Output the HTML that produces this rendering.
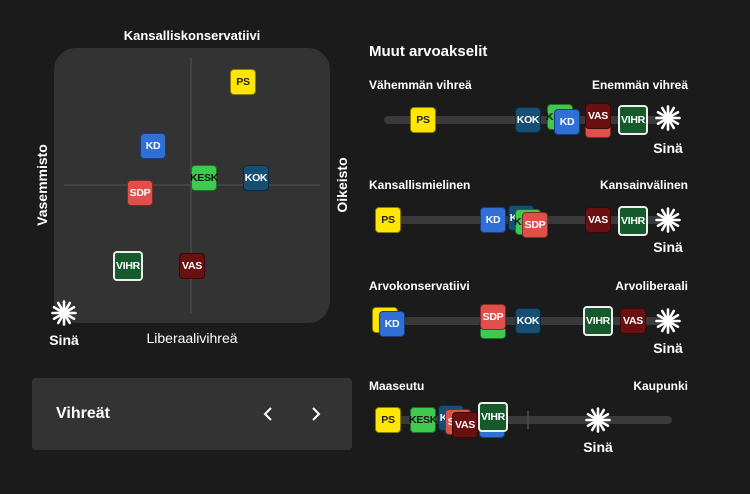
<!DOCTYPE html>
<html><head><meta charset="utf-8"><style>
*{margin:0;padding:0;box-sizing:border-box}
body{width:750px;height:494px;background:#1b1b1b;position:relative;overflow:hidden;font-family:"Liberation Sans",sans-serif;color:#fff;font-weight:bold}
.a{position:absolute}
.c{position:absolute;width:26px;height:26px;border-radius:4px;border:1px solid rgba(0,0,0,.45);font-size:10.5px;font-weight:bold;display:flex;align-items:center;justify-content:center;color:#fff;letter-spacing:-.3px}
.PS{background:#ffe600;color:#222}
.KD{background:#2f6fd6}
.KESK{background:#3fc94f;color:#111}
.KOK{background:#164f73}
.SDP{background:#e0504a}
.VAS{background:#6b1010}
.VIHR{background:#145a2a;border:2px solid #eee;width:30px;height:30px}
.lbl{position:absolute;font-size:12px;white-space:nowrap}
.trk{position:absolute;height:8px;background:#3a3a3a;border-radius:4px}
.sn{position:absolute;font-size:14px;transform:translateX(-50%)}
</style></head><body>
<div class="lbl" style="left:192px;top:28px;transform:translateX(-50%);font-size:13px">Kansalliskonservatiivi</div>
<div class="a" style="left:54px;top:48px;width:276px;height:275px;background:#333;border-radius:22px"></div>
<div class="a" style="left:190px;top:58px;width:2px;height:255px;background:#444"></div>
<div class="a" style="left:64px;top:184px;width:256px;height:2px;background:#444"></div>
<div class="lbl" style="left:192px;top:330px;transform:translateX(-50%);font-size:14px;font-weight:normal">Liberaalivihreä</div>
<div class="lbl" style="left:42px;top:185px;transform:translate(-50%,-50%) rotate(-90deg);font-size:14px">Vasemmisto</div>
<div class="lbl" style="left:342px;top:185px;transform:translate(-50%,-50%) rotate(-90deg);font-size:14px">Oikeisto</div>

<div class="c PS" style="left:230px;top:69px">PS</div>
<div class="c KD" style="left:140px;top:133px">KD</div>
<div class="c KESK" style="left:191px;top:165px">KESK</div>
<div class="c KOK" style="left:243px;top:165px">KOK</div>
<div class="c SDP" style="left:127px;top:180px">SDP</div>
<div class="c VIHR" style="left:113px;top:251px">VIHR</div>
<div class="c VAS" style="left:179px;top:253px">VAS</div>

<svg class="a" width="0" height="0"><defs><g id="st" fill="#fff">
<circle r="3.5"/>
<g stroke="#fff" stroke-width="2.6" stroke-linecap="round">
<line x1="0" y1="-2" x2="0" y2="-11.5"/>
<line x1="0" y1="-2" x2="0" y2="-11.5" transform="rotate(30)"/>
<line x1="0" y1="-2" x2="0" y2="-11.5" transform="rotate(60)"/>
<line x1="0" y1="-2" x2="0" y2="-11.5" transform="rotate(90)"/>
<line x1="0" y1="-2" x2="0" y2="-11.5" transform="rotate(120)"/>
<line x1="0" y1="-2" x2="0" y2="-11.5" transform="rotate(150)"/>
<line x1="0" y1="-2" x2="0" y2="-11.5" transform="rotate(180)"/>
<line x1="0" y1="-2" x2="0" y2="-11.5" transform="rotate(210)"/>
<line x1="0" y1="-2" x2="0" y2="-11.5" transform="rotate(240)"/>
<line x1="0" y1="-2" x2="0" y2="-11.5" transform="rotate(270)"/>
<line x1="0" y1="-2" x2="0" y2="-11.5" transform="rotate(300)"/>
<line x1="0" y1="-2" x2="0" y2="-11.5" transform="rotate(330)"/>
</g></g></defs></svg>
<svg class="a" style="left:50px;top:299px" width="28" height="28"><use href="#st" x="14" y="14"/></svg>
<div class="sn" style="left:64px;top:332px">Sinä</div>

<div class="a" style="left:32px;top:378px;width:320px;height:72px;background:#333;border-radius:4px"></div>
<div class="lbl" style="left:56px;top:405px;font-size:16px">Vihreät</div>
<svg class="a" style="left:262px;top:406px" width="12" height="16"><polyline points="9,2 3,8 9,14" fill="none" stroke="#fff" stroke-width="2"/></svg>
<svg class="a" style="left:310px;top:406px" width="12" height="16"><polyline points="3,2 9,8 3,14" fill="none" stroke="#fff" stroke-width="2"/></svg>

<div class="lbl" style="left:369px;top:43px;font-size:15px">Muut arvoakselit</div>

<!-- Row 1 -->
<div class="lbl" style="left:369px;top:78px">Vähemmän vihreä</div>
<div class="lbl" style="right:62px;top:78px">Enemmän vihreä</div>
<div class="trk" style="left:384px;top:116px;width:280px"></div>
<div class="c PS" style="left:410px;top:107px">PS</div>
<div class="c KOK" style="left:515px;top:107px">KOK</div>
<div class="c KESK" style="left:547px;top:104px">KESK</div>
<div class="c KD" style="left:554px;top:109px">KD</div>
<div class="c SDP" style="left:585px;top:112px">SDP</div>
<div class="c VAS" style="left:585px;top:103px">VAS</div>
<div class="c VIHR" style="left:618px;top:105px">VIHR</div>
<svg class="a" style="left:654px;top:104px" width="28" height="28"><use href="#st" x="14" y="14"/></svg>
<div class="sn" style="left:668px;top:140px">Sinä</div>

<!-- Row 2 -->
<div class="lbl" style="left:369px;top:178px">Kansallismielinen</div>
<div class="lbl" style="right:62px;top:178px">Kansainvälinen</div>
<div class="trk" style="left:378px;top:216px;width:286px"></div>
<div class="c PS" style="left:375px;top:207px">PS</div>
<div class="c KD" style="left:480px;top:207px">KD</div>
<div class="c KOK" style="left:508px;top:205px">KOK</div>
<div class="c KESK" style="left:515px;top:209px">KESK</div>
<div class="c SDP" style="left:522px;top:212px">SDP</div>
<div class="c VAS" style="left:585px;top:207px">VAS</div>
<div class="c VIHR" style="left:618px;top:206px">VIHR</div>
<svg class="a" style="left:654px;top:206px" width="28" height="28"><use href="#st" x="14" y="14"/></svg>
<div class="sn" style="left:668px;top:239px">Sinä</div>

<!-- Row 3 -->
<div class="lbl" style="left:369px;top:279px">Arvokonservatiivi</div>
<div class="lbl" style="right:62px;top:279px">Arvoliberaali</div>
<div class="trk" style="left:378px;top:317px;width:286px"></div>
<div class="c PS" style="left:372px;top:307px">PS</div>
<div class="c KD" style="left:379px;top:311px">KD</div>
<div class="c KESK" style="left:480px;top:313px">KESK</div>
<div class="c SDP" style="left:480px;top:304px">SDP</div>
<div class="c KOK" style="left:515px;top:308px">KOK</div>
<div class="c VIHR" style="left:583px;top:306px">VIHR</div>
<div class="c VAS" style="left:620px;top:308px">VAS</div>
<svg class="a" style="left:654px;top:307px" width="28" height="28"><use href="#st" x="14" y="14"/></svg>
<div class="sn" style="left:668px;top:340px">Sinä</div>

<!-- Row 4 -->
<div class="lbl" style="left:369px;top:379px">Maaseutu</div>
<div class="lbl" style="right:62px;top:379px">Kaupunki</div>
<div class="trk" style="left:378px;top:416px;width:294px"></div>
<div class="a" style="left:527px;top:411px;width:2px;height:18px;background:#444"></div>
<div class="c PS" style="left:375px;top:407px">PS</div>
<div class="c KESK" style="left:410px;top:407px">KESK</div>
<div class="c KOK" style="left:438px;top:405px">KOK</div>
<div class="c SDP" style="left:445px;top:409px">SDP</div>
<div class="c VAS" style="left:452px;top:412px">VAS</div>
<div class="c KD" style="left:479px;top:412px">KD</div>
<div class="c VIHR" style="left:478px;top:402px">VIHR</div>
<svg class="a" style="left:584px;top:406px" width="28" height="28"><use href="#st" x="14" y="14"/></svg>
<div class="sn" style="left:598px;top:439px">Sinä</div>
</body></html>
